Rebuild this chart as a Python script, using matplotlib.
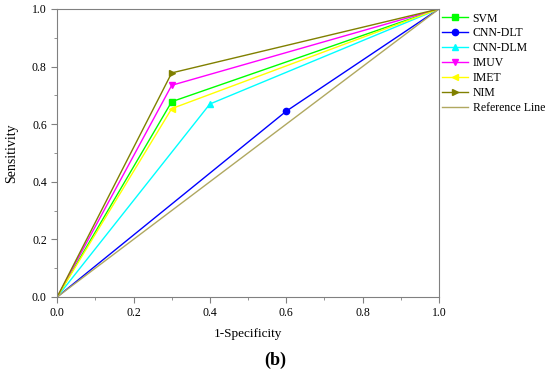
import numpy as np
import matplotlib
matplotlib.use('Agg')
import matplotlib.pyplot as plt
from matplotlib.ticker import MultipleLocator

# ROC points (0,0) -> (fpr,tpr) -> (1,1)
names = ['SVM', 'CNN-DLT', 'CNN-DLM', 'IMUV', 'IMET', 'NIM']
fpr = [0.30, 0.60, 0.40, 0.30, 0.30, 0.30]
tpr = [0.678, 0.645, 0.670, 0.735, 0.654, 0.778]
colors = ['#00ff00', '#0000ff', '#00ffff', '#ff00ff', '#ffff00', '#808000']
markers = ['s', 'o', '^', 'v', '<', '>']
ref_x = [0.0, 1.0]
ref_y = [0.0, 1.0]

plt.rcParams['font.family'] = ['Liberation Serif', 'DejaVu Serif']
plt.rcParams['font.size'] = 8.5

fig = plt.figure(figsize=(5.5, 3.74), dpi=100)
ax = fig.add_axes([0.104, 0.206, 0.694, 0.770])

for name, x, y, c, m in zip(names, fpr, tpr, colors, markers):
    ax.plot([0, x, 1], [0, y, 1], color=c, lw=1, marker=m, ms=4.5,
            markevery=[1], label=name)
ax.plot(ref_x, ref_y, color='#b0a860', lw=1, label='Reference Line')

ax.set_xlim(0, 1)
ax.set_ylim(0, 1)
ax.xaxis.set_major_locator(MultipleLocator(0.2))
ax.xaxis.set_minor_locator(MultipleLocator(0.1))
ax.yaxis.set_major_locator(MultipleLocator(0.2))
ax.yaxis.set_minor_locator(MultipleLocator(0.1))
ax.xaxis.set_major_formatter(plt.FormatStrFormatter('%.1f'))
ax.yaxis.set_major_formatter(plt.FormatStrFormatter('%.1f'))
for sp in ax.spines.values():
    sp.set_color('#808080')
ax.tick_params(which='both', direction='out', color='#808080', top=False, right=False)
ax.tick_params(which='major', length=4)
ax.tick_params(which='minor', length=2)
ax.set_xlabel('1-Specificity', fontsize=9.5, labelpad=6)
ax.set_ylabel('Sensitivity', fontsize=10, labelpad=10)

ax.legend(loc='upper left', bbox_to_anchor=(1.0, 1.0), frameon=False,
          handlelength=2.2, handletextpad=0.35, labelspacing=0.25,
          borderaxespad=0.1, borderpad=0.2)

fig.text(0.5, 0.037, '(b)', ha='center', va='center', fontsize=13, fontweight='bold')

fig.savefig('out.png', dpi=100)
